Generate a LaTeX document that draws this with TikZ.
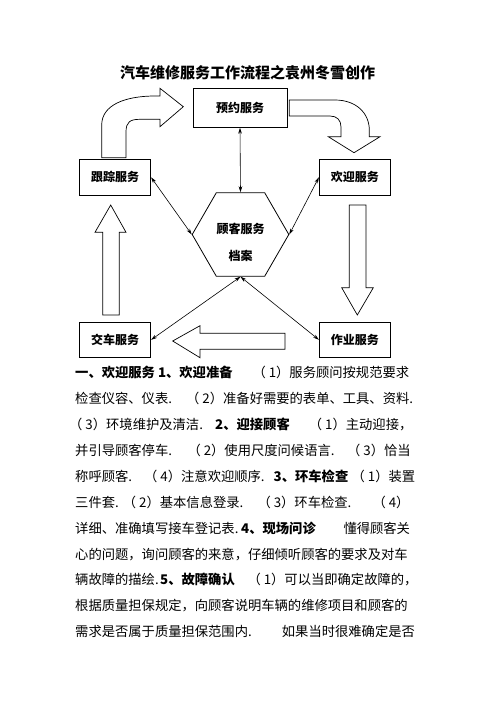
\documentclass[tikz,border=0pt]{standalone}
\usepackage{fontspec}
\setmainfont{Noto Sans CJK SC}
\usetikzlibrary{arrows.meta,shapes.geometric}
\newcommand\pnum[1]{（\kern3pt #1）}
\begin{document}
\begin{tikzpicture}[x=1pt,y=-1pt,
 box/.style={draw,line width=0.8pt,inner sep=0pt,font=\fontsize{12}{12}\selectfont\bfseries},
 conn/.style={line width=0.6pt,{Stealth[length=6pt,width=3.6pt]}-{Stealth[length=6pt,width=3.6pt]}},
 blockarrow/.style={draw,fill=white,line width=0.7pt,line join=miter},
 body/.style={anchor=base west,inner sep=0pt,font=\fontsize{13.3}{13.3}\selectfont},
 bodyb/.style={anchor=base west,inner sep=0pt,font=\fontsize{13.3}{13.3}\selectfont\bfseries}]
\useasboundingbox (0,0) rectangle (496,702);
% title
\node[inner sep=0pt,font=\fontsize{15}{15}\selectfont\bfseries] (title) at (247.5,73) {汽车维修服务工作流程之袁州冬雪创作};
% boxes
\node[box,minimum width=94pt,minimum height=39pt] (yy) at (240,107.8) {预约服务};
\node[box,minimum width=71.4pt,minimum height=36pt] (gz) at (115,177.3) {跟踪服务};
\node[box,minimum width=71pt,minimum height=36pt] (hy) at (354.8,177.3) {欢迎服务};
\node[box,minimum width=71.4pt,minimum height=35pt] (jc) at (115,339.8) {交车服务};
\node[box,minimum width=71pt,minimum height=35pt] (zy) at (354.8,339.8) {作业服务};
\node[draw,line width=0.8pt,regular polygon,regular polygon sides=6,minimum size=96.6pt,inner sep=0pt] (hex) at (240.5,234.5) {};
\node[inner sep=0pt,font=\fontsize{12}{12}\selectfont\bfseries] (hext1) at (240.5,229) {顾客服务};
\node[inner sep=0pt,font=\fontsize{12}{12}\selectfont\bfseries] (hext2) at (240.5,256) {档案};
% connectors
\draw[conn] (yy.south) -- (hex.north);
\draw[conn] (gz.east) -- (hex.west);
\draw[conn] (hy.west) -- (hex.east);
\draw[conn] (jc.east) -- (hex.south);
\draw[conn] (hex.south) -- (zy.west);
% block arrows
\draw[blockarrow] (101.7,157.7) -- (101.7,125) .. controls (101.7,105) and (125,96) .. (155,96) -- (160,96) -- (160,88.3) -- (183.3,106.7) -- (160,126.7) -- (160,119.3) -- (140,119.3) .. controls (130,119.3) and (126,122) .. (126,132) -- (126,157.7) -- cycle;
\draw[blockarrow] (289.3,100) -- (335,100) .. controls (356,100) and (369.3,113) .. (369.3,130) -- (369.3,136.7) -- (380,136.7) -- (354,152.7) -- (328.3,136.7) -- (341,136.7) -- (341,127) .. controls (341,120) and (337,116) .. (330,116) -- (289.3,116) -- cycle;
\draw[blockarrow] (349.3,205) -- (366,205) -- (366,287.7) -- (373.3,287.7) -- (357.3,315) -- (341.7,287.7) -- (349.3,287.7) -- cycle;
\draw[blockarrow] (102.7,315) -- (119.3,315) -- (119.3,232.3) -- (126,232.3) -- (110.7,205) -- (95,232.3) -- (102.7,232.3) -- cycle;
\draw[blockarrow] (285,333.3) -- (285,349.3) -- (200,349.3) -- (200,357.7) -- (172.7,341) -- (200,325.7) -- (200,333.3) -- cycle;
% body text
\node[bodyb] (l1a) at (75,377.7) {一、欢迎服务 1、欢迎准备};
\node[body] (l1b) at (252.3,377.7) {\pnum{1}服务顾问按规范要求};
\node[body] (l2a) at (75,403.6) {检查仪容、仪表.};
\node[body] (l2b) at (186,403.6) {\pnum{2}准备好需要的表单、工具、资料.};
\node[body] (l3a) at (69,429.5) {\pnum{3}环境维护及清洁.};
\node[bodyb] (l3b) at (215,429.5) {2、迎接顾客};
\node[body] (l3c) at (308.7,429.5) {\pnum{1}主动迎接，};
\node[body] (l4a) at (75,455.4) {并引导顾客停车.};
\node[body] (l4b) at (187.3,455.4) {\pnum{2}使用尺度问候语言.};
\node[body] (l4c) at (347,455.4) {\pnum{3}恰当};
\node[body] (l5a) at (75,481.3) {称呼顾客.};
\node[body] (l5b) at (144,481.3) {\pnum{4}注意欢迎顺序.};
\node[bodyb] (l5c) at (273.5,481.3) {3、环车检查};
\node[body] (l5d) at (351.5,481.3) {\pnum{1}装置};
\node[body] (l6a) at (75,507.2) {三件套.};
\node[body] (l6b) at (122.7,507.2) {\pnum{2}基本信息登录.};
\node[body] (l6c) at (257.3,507.2) {\pnum{3}环车检查.};
\node[body] (l6d) at (372.3,507.2) {\pnum{4}};
\node[body] (l7a) at (75,533.1) {详细、准确填写接车登记表.};
\node[bodyb] (l7b) at (241,533.1) {4、现场问诊};
\node[body] (l7c) at (343.3,533.1) {懂得顾客关};
\node[body] (l8a) at (75,559) {心的问题，询问顾客的来意，仔细倾听顾客的要求及对车};
\node[body] (l9a) at (75,584.9) {辆故障的描绘.};
\node[bodyb] (l9b) at (160,584.9) {5、故障确认};
\node[body] (l9c) at (247.3,584.9) {\pnum{1}可以当即确定故障的，};
\node[body] (l10a) at (75,610.8) {根据质量担保规定，向顾客说明车辆的维修项目和顾客的};
\node[body] (l11a) at (75,636.7) {需求是否属于质量担保范围内.};
\node[body] (l11b) at (281.7,636.7) {如果当时很难确定是否};
\end{tikzpicture}
\end{document}
